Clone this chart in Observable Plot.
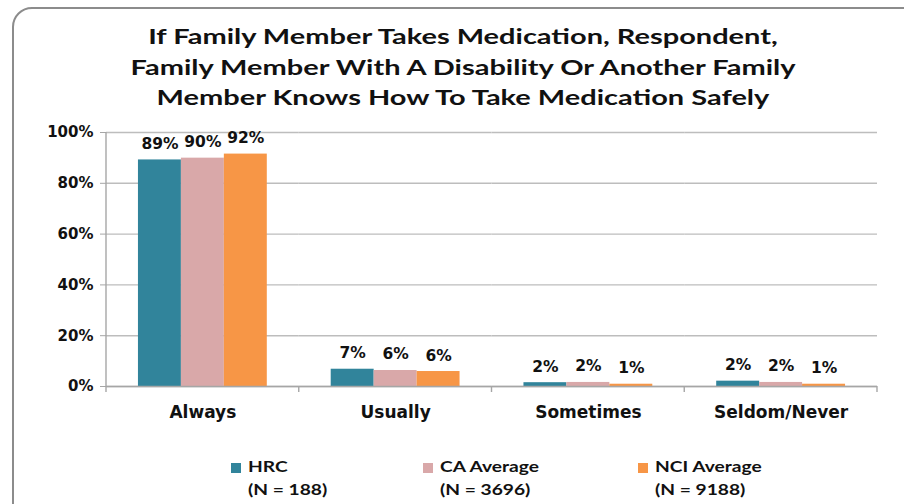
<!DOCTYPE html>
<html>
<head>
<meta charset="utf-8">
<script src="https://cdn.jsdelivr.net/npm/d3@7"></script>
<script src="https://cdn.jsdelivr.net/npm/@observablehq/plot@0.6"></script>
<style>
  html, body { margin: 0; padding: 0; background: #fff; }
  #wrap { position: relative; width: 904px; height: 504px; overflow: hidden; background: #fff; }
  #frame { position: absolute; left: 12px; top: 7px; width: 930px; height: 520px; border: 2px solid #8c8c8c; border-radius: 20px; box-sizing: border-box; }
  #title { position: absolute; left: 0; top: 21px; width: 926px; text-align: center; font-family: Lato, sans-serif; font-weight: bold; font-size: 21px; line-height: 30.5px; color: #111; transform: scaleX(1.38); transform-origin: 463px 0; }
  #chart { position: absolute; left: 0; top: 118px; }
  #legend { position: absolute; left: 231px; top: 455px; width: 600px; height: 50px; font-family: Lato, sans-serif; font-weight: bold; font-size: 15px; line-height: 23px; color: #111; }
  .item { position: absolute; top: 0; }
  .sw { position: absolute; left: 0; top: 8px; width: 10px; height: 10px; }
  .txt { position: absolute; left: 17px; top: 0; white-space: nowrap; transform: scaleX(1.28); transform-origin: 0 0; }
</style>
</head>
<body>
<div id="wrap">
  <div id="frame"></div>
  <div id="title">If Family Member Takes Medication, Respondent,<br>Family Member With A Disability Or Another Family<br>Member Knows How To Take Medication Safely</div>
  <div id="chart"></div>
  <div id="legend"></div>
</div>
<script>
const categories = ["Always", "Usually", "Sometimes", "Seldom/Never"];
const series = ["HRC", "CA Average", "NCI Average"];
const seriesN = ["(N = 188)", "(N = 3696)", "(N = 9188)"];
const colors = ["#31849B", "#D9A8A9", "#F79646"];
const hrc = [89.2, 6.8, 1.5, 2.1];
const caAvg = [89.9, 6.3, 1.6, 1.6];
const nciAvg = [91.5, 5.9, 0.9, 0.9];
const yTicks = [0, 20, 40, 60, 80, 100];

const seriesValues = [hrc, caAvg, nciAvg];
const data = [];
categories.forEach((c, i) => {
  series.forEach((s, j) => {
    data.push({category: c, series: s, value: seriesValues[j][i]});
  });
});

const plot = Plot.plot({
  width: 904,
  height: 310,
  marginLeft: 106,
  marginRight: 27,
  marginTop: 14,
  marginBottom: 42,
  style: {fontFamily: "DejaVu Sans", color: "#111", background: "transparent"},
  fx: {domain: categories, padding: 0, label: null, round: false},
  x: {domain: series, paddingInner: 0, paddingOuter: 0.744, axis: null, round: false},
  y: {domain: [0, 100], axis: null},
  color: {domain: series, range: colors},
  marks: [
    Plot.gridY({ticks: yTicks, stroke: "#bdbdbd", strokeOpacity: 1, strokeWidth: 1.4}),
    Plot.barY(data, {fx: "category", x: "series", y: "value", fill: "series"}),
    Plot.ruleY([0], {stroke: "#a6a6a6", strokeWidth: 1.4}),
    Plot.text(data, {fx: "category", x: "series", y: "value", text: d => Math.round(d.value) + "%",
      lineAnchor: "bottom", dy: -11, fontSize: 15.5, fontWeight: "bold", fill: "#111"}),
    Plot.axisY({ticks: yTicks, tickFormat: d => d + "%", tickSize: 6, tickPadding: 7,
      fontSize: 15, fontWeight: "bold", label: null, stroke: "#a6a6a6", fill: "#111"}),
    Plot.axisFx({anchor: "bottom", tickSize: 0, tickPadding: 19, fontSize: 17, fontWeight: "bold", label: null, fill: "#111"})
  ]
});

document.getElementById("chart").appendChild(plot);

// y-axis line and category boundary ticks from the plot's own scales
const fx = plot.scale("fx");
const y = plot.scale("y");
const svg = d3.select(plot);
const y0 = y.apply(0), y100 = y.apply(100);
const bw = fx.bandwidth;
const left = fx.apply(categories[0]);
svg.append("line").attr("x1", left).attr("x2", left).attr("y1", y100).attr("y2", y0)
  .attr("stroke", "#a6a6a6").attr("stroke-width", 1.4);
const bounds = categories.map(c => fx.apply(c)).concat([fx.apply(categories[categories.length - 1]) + bw]);
svg.append("g").selectAll("line").data(bounds).join("line")
  .attr("x1", d => d).attr("x2", d => d).attr("y1", y0).attr("y2", y0 + 6)
  .attr("stroke", "#a6a6a6").attr("stroke-width", 1.4);

// legend (HTML, below the chart)
const itemLeft = [0, 192, 407];
const legend = d3.select("#legend");
series.forEach((s, j) => {
  const item = legend.append("div").attr("class", "item").style("left", itemLeft[j] + "px");
  item.append("div").attr("class", "sw").style("background", colors[j]);
  item.append("div").attr("class", "txt").html(s + "<br>" + seriesN[j]);
});
</script>
</body>
</html>
